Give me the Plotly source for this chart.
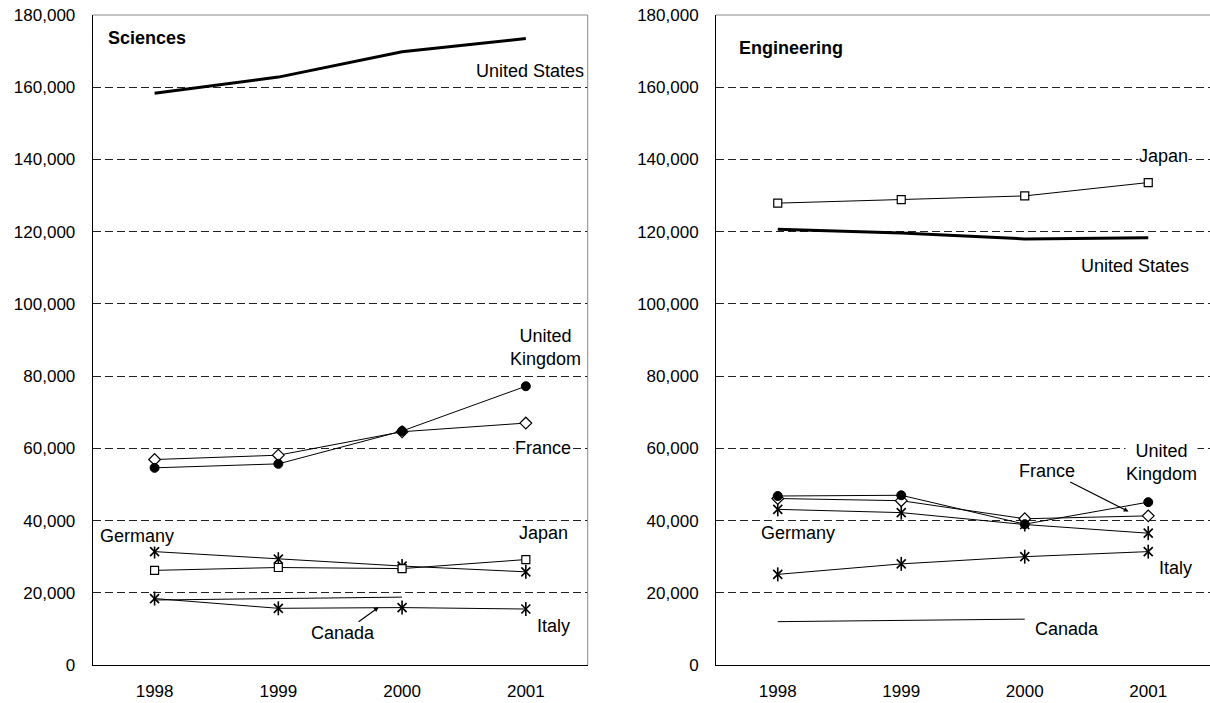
import plotly.graph_objects as go

years = ["1998", "1999", "2000", "2001"]

# Sciences
sci_us = [158300, 162800, 169800, 173500]
sci_uk = [54600, 55700, 64800, 77200]
sci_france = [56900, 58100, 64600, 67000]
sci_germany = [31400, 29300, 27400, 25800]
sci_japan = [26200, 27000, 26700, 29200]
sci_italy = [18400, 15700, 15900, 15500]
sci_canada = [18000, None, 18800, None]

# Engineering
eng_us = [120700, 119600, 118000, 118300]
eng_japan = [127900, 128900, 129900, 133600]
eng_uk = [46800, 47000, 39000, 45100]
eng_france = [46100, 45500, 40500, 41300]
eng_germany = [43100, 42200, 38900, 36500]
eng_italy = [25100, 28000, 30000, 31400]
eng_canada = [12000, None, 12700, None]

y_ticks = list(range(0, 180001, 20000))

FONT = "Liberation Sans, Arial, sans-serif"
FS = 18
TFS = 17

fig = go.Figure()


def add_series(xa, ya, vals, kind):
    common = dict(x=years, y=vals, xaxis=xa, yaxis=ya, showlegend=False,
                  hoverinfo="skip")
    if kind == "us":
        fig.add_trace(go.Scatter(mode="lines", line=dict(color="black", width=3),
                                 **common))
    elif kind == "canada":
        fig.add_trace(go.Scatter(mode="lines", connectgaps=True,
                                 line=dict(color="black", width=1), **common))
    elif kind == "circle":
        fig.add_trace(go.Scatter(mode="lines+markers", line=dict(color="black", width=1),
                                 marker=dict(symbol="circle", size=9, color="black",
                                             line=dict(color="black", width=1)),
                                 **common))
    elif kind == "square":
        fig.add_trace(go.Scatter(mode="lines+markers", line=dict(color="black", width=1),
                                 marker=dict(symbol="square", size=8, color="white",
                                             line=dict(color="black", width=1.2)),
                                 **common))
    elif kind == "diamond":
        fig.add_trace(go.Scatter(mode="lines+markers", line=dict(color="black", width=1),
                                 marker=dict(symbol="diamond", size=9, color="white",
                                             line=dict(color="black", width=1.2)),
                                 **common))
    elif kind == "asterisk":
        fig.add_trace(go.Scatter(mode="lines+markers", line=dict(color="black", width=1),
                                 marker=dict(symbol="x-thin-open", size=9, color="black",
                                             line=dict(color="black", width=1.6)),
                                 **common))
        fig.add_trace(go.Scatter(mode="markers",
                                 marker=dict(symbol="line-ns-open", size=10, color="black",
                                             line=dict(color="black", width=1.6)),
                                 **common))


# left panel
add_series("x", "y", sci_canada, "canada")
add_series("x", "y", sci_italy, "asterisk")
add_series("x", "y", sci_germany, "asterisk")
add_series("x", "y", sci_japan, "square")
add_series("x", "y", sci_france, "diamond")
add_series("x", "y", sci_uk, "circle")
add_series("x", "y", sci_us, "us")

# right panel
add_series("x2", "y2", eng_canada, "canada")
add_series("x2", "y2", eng_italy, "asterisk")
add_series("x2", "y2", eng_germany, "asterisk")
add_series("x2", "y2", eng_france, "diamond")
add_series("x2", "y2", eng_uk, "circle")
add_series("x2", "y2", eng_japan, "square")
add_series("x2", "y2", eng_us, "us")

W, H = 1210, 703
left_dom = [92.7 / W, 587.7 / W]
right_dom = [716.0 / W, 1.0]

xax = dict(type="category", range=[-0.5, 3.5], showgrid=False, zeroline=False,
           showline=True, linecolor="black", linewidth=1, ticks="",
           tickfont=dict(family=FONT, size=TFS, color="black"),
           ticklabelstandoff=11, automargin=False, fixedrange=True)
yax = dict(range=[0, 180000], tickvals=y_ticks, tickformat=",d", showgrid=True,
           gridcolor="#222222", gridwidth=1, griddash="8px,4px", zeroline=False,
           showline=True, linecolor="black", linewidth=1, ticks="",
           tickfont=dict(family=FONT, size=TFS, color="black"),
           ticklabelstandoff=13, ticklabeloverflow="allow",
           automargin=False, fixedrange=True)

fig.update_layout(
    width=W, height=H,
    margin=dict(l=0, r=0, t=15, b=38),
    paper_bgcolor="white", plot_bgcolor="white",
    xaxis=dict(domain=left_dom, anchor="y", **xax),
    yaxis=dict(domain=[0, 1], anchor="x", **yax),
    xaxis2=dict(domain=right_dom, anchor="y2", **xax),
    yaxis2=dict(domain=[0, 1], anchor="x2", **yax),
)

# gray top/right frame lines
for xr, yr, right in (("x domain", "y domain", True), ("x2 domain", "y2 domain", False)):
    fig.add_shape(type="line", xref=xr, yref=yr, x0=0, x1=1, y0=1, y1=1,
                  line=dict(color="#888888", width=1), layer="above")
    if right:
        fig.add_shape(type="line", xref=xr, yref=yr, x0=1, x1=1, y0=0, y1=1,
                      line=dict(color="#888888", width=1), layer="above")


def label(xr, yr, x, y, text, bold=False, xanchor="center", bg="white"):
    t = f"<b>{text}</b>" if bold else text
    fig.add_annotation(xref=xr, yref=yr, x=x, y=y, text=t, showarrow=False,
                       xanchor=xanchor, yanchor="middle", bgcolor=bg, borderpad=0,
                       font=dict(family=FONT, size=FS, color="black"), align="center")


# Sciences labels
label("x", "y", -0.384, 173600, "Sciences", bold=True, xanchor="left", bg="rgba(0,0,0,0)")
label("x", "y", 3.034, 164500, "United States")
label("x", "y", 3.156, 87900, "United<br>Kingdom")
label("x", "y", 3.14, 60100, "France")
label("x", "y", -0.144, 35700, "Germany")
label("x", "y", 3.14, 36600, "Japan")
label("x", "y", 3.22, 10800, "Italy")
fig.add_annotation(xref="x", yref="y", x=1.811, y=16000, ax=-36, ay=26,
                   axref="pixel", ayref="pixel", text="Canada", showarrow=True,
                   arrowhead=2, arrowsize=0.8, arrowwidth=1.2, arrowcolor="black",
                   standoff=0, startstandoff=0, bgcolor="white",
                   font=dict(family=FONT, size=FS, color="black"))

# Engineering labels
label("x2", "y2", -0.322, 171000, "Engineering", bold=True, xanchor="left", bg="rgba(0,0,0,0)")
label("x2", "y2", 3.12, 141000, "Japan")
label("x2", "y2", 2.89, 110600, "United States")
label("x2", "y2", 3.11, 56100, "United<br>Kingdom")
fig.add_annotation(xref="x2", yref="y2", x=2.84, y=42500, ax=-81, ay=-41,
                   axref="pixel", ayref="pixel", text="France", showarrow=True,
                   arrowhead=2, arrowsize=0.8, arrowwidth=1.2, arrowcolor="black",
                   standoff=0, startstandoff=0, bgcolor="white",
                   font=dict(family=FONT, size=FS, color="black"))
label("x2", "y2", 0.164, 36500, "Germany")
label("x2", "y2", 3.22, 26800, "Italy")
label("x2", "y2", 2.34, 9900, "Canada")

# remove the browser's default 8px page margin so the figure fills the window
fig.write_html("out.html", config={"displayModeBar": False, "staticPlot": False},
               post_script="document.body.style.margin='0';document.body.style.overflow='hidden';")
